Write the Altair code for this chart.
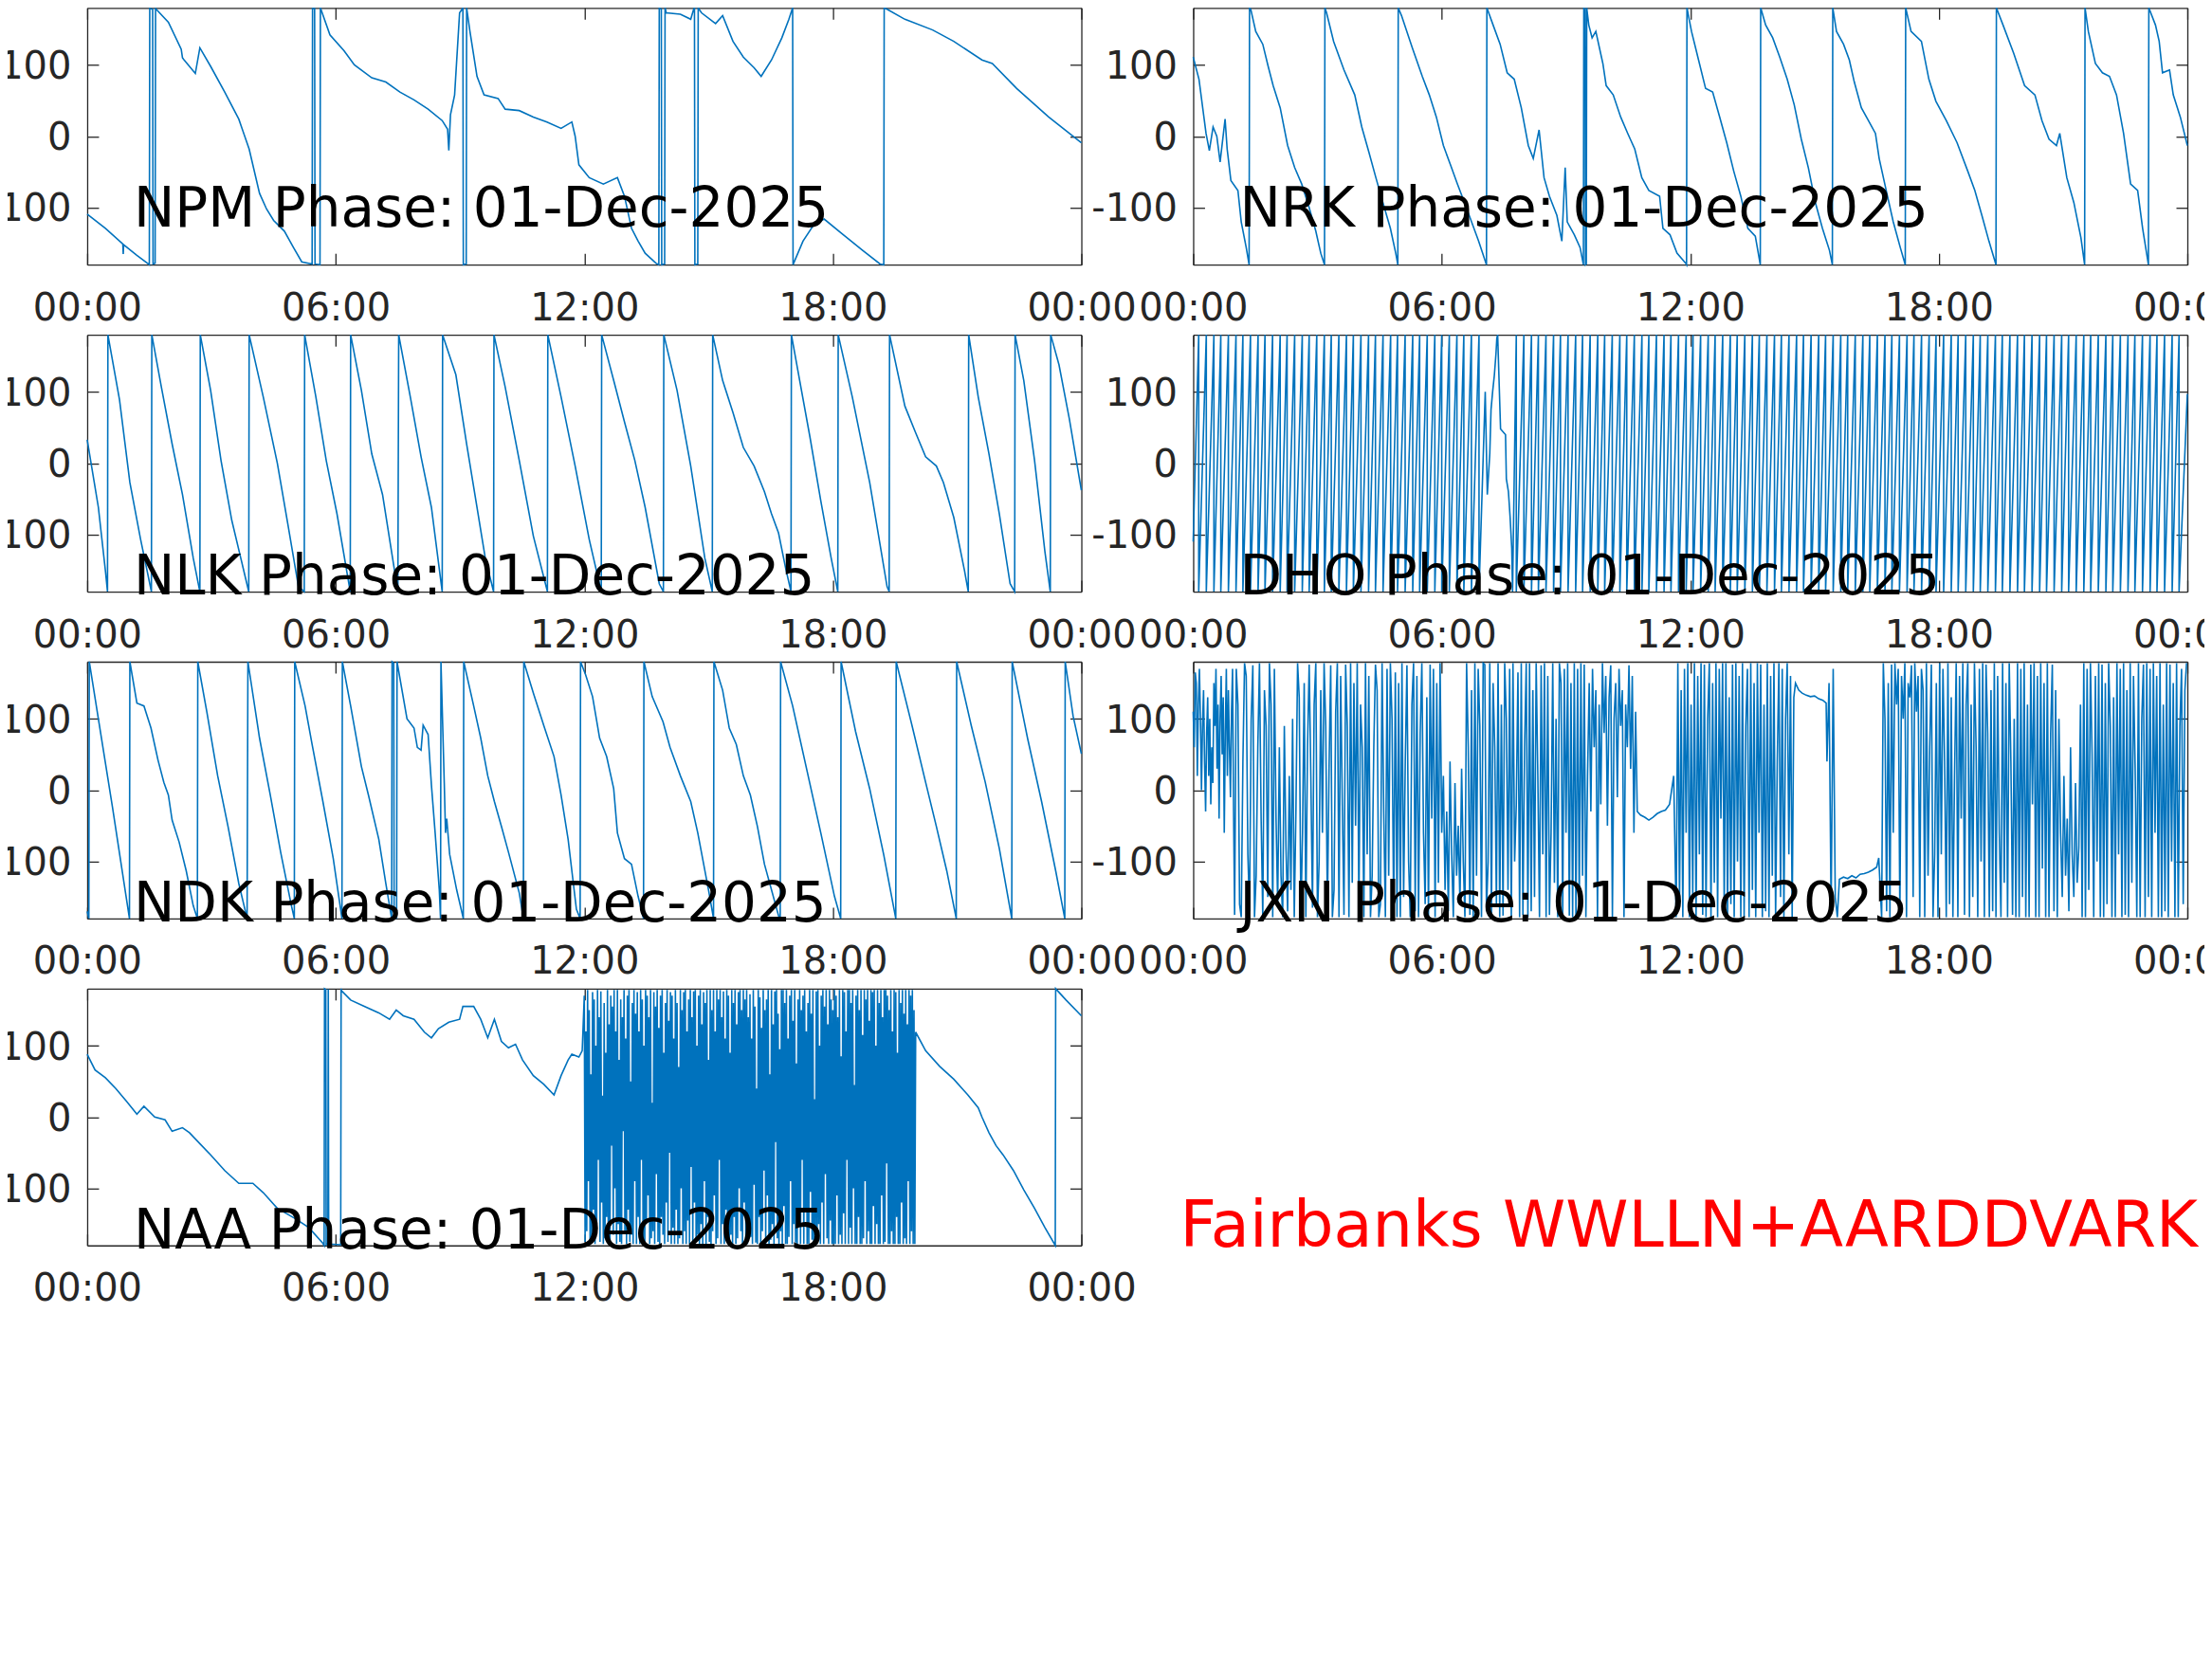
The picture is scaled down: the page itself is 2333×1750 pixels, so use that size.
import altair as alt
import pandas as pd

# ---------------- data: (hour of day, phase in degrees) ----------------
npm = [(0.00,-109),(0.44,-129),(0.86,-151),(0.87,-165),(0.88,-152),(1.20,-167),(1.50,-180),(1.51,179),
       (1.58,178),(1.59,-179),(1.64,-178),(1.65,179),(1.96,160),(2.27,122),(2.30,110),(2.34,107),(2.61,88),
       (2.72,124),(2.98,98),(3.32,62),(3.66,24),(3.91,-18),(4.16,-80),(4.33,-102),(4.50,-118),(4.76,-133),
       (4.98,-156),(5.18,-176),(5.43,-179),(5.44,179),(5.49,179),(5.50,-179),(5.62,-180),(5.63,180),(5.86,142),
       (6.20,120),(6.45,100),(6.87,82),(7.21,76),(7.55,62),(7.89,51),(8.23,38),(8.57,22),(8.70,10),(8.73,-20),
       (8.77,30),(8.87,58),(8.99,173),(9.05,178),(9.07,180),(9.08,-180),(9.15,-179),(9.16,180),(9.24,147),
       (9.41,84),(9.58,58),(9.92,53),(10.09,38),(10.43,36),(10.77,27),(11.10,20),(11.44,11),(11.70,20),
       (11.78,0),(11.87,-40),(12.12,-58),(12.46,-67),(12.80,-58),(12.97,-84),(13.14,-129),(13.30,-147),
       (13.47,-164),(13.73,-178),(13.80,-180),(13.81,180),(13.86,178),(13.87,-180),(13.94,-179),(13.95,180),
       (13.98,173),(14.32,171),(14.57,164),(14.64,178),(14.66,180),(14.67,-180),(14.74,-179),(14.75,180),
       (14.83,173),(15.17,158),(15.34,169),(15.59,133),(15.84,111),(16.10,96),(16.27,84),(16.52,107),
       (16.77,138),(16.94,164),(17.03,180),(17.04,-180),(17.28,-147),(17.54,-124),(17.79,-116),(18.21,-136),
       (18.72,-160),(19.14,-179),(19.23,-180),(19.24,180),(19.31,178),(19.74,164),(20.41,149),(20.92,133),
       (21.60,107),(21.85,102),(22.44,67),(23.21,27),(24.00,-9)]

nrk = [(0.00,111),(0.14,80),(0.31,4),(0.39,-20),(0.48,13),(0.57,0),(0.65,-36),(0.77,24),(0.82,-18),
       (0.91,-62),(1.08,-76),(1.16,-120),(1.28,-156),(1.35,-180),(1.36,180),
       (1.39,178),(1.51,147),(1.68,129),(1.81,98),(1.93,71),(2.10,40),(2.28,-13),(2.45,-44),(2.62,-67),
       (2.79,-98),(2.96,-133),(3.08,-164),(3.17,-180),(3.18,180),
       (3.22,173),(3.39,133),(3.64,93),(3.90,58),(4.07,13),(4.24,-22),(4.41,-58),(4.58,-93),(4.76,-129),
       (4.89,-164),(4.94,-180),(4.95,180),
       (5.03,169),(5.29,124),(5.53,84),(5.70,58),(5.87,27),(6.04,-13),(6.21,-40),(6.38,-67),(6.55,-93),
       (6.72,-120),(6.89,-147),(7.08,-180),(7.09,180),
       (7.24,156),(7.41,129),(7.58,89),(7.75,80),(7.92,40),(8.09,-13),(8.21,-31),(8.35,9),(8.47,-58),
       (8.60,-84),(8.78,-111),(8.90,-147),(8.98,-44),(9.03,-120),(9.20,-138),(9.34,-156),(9.42,-180),
       (9.43,180),(9.46,178),(9.47,-180),(9.49,-179),(9.50,180),
       (9.55,156),(9.63,138),(9.72,147),(9.89,102),(9.97,71),(10.14,58),(10.32,27),(10.49,4),(10.66,-18),
       (10.83,-58),(11.00,-76),(11.26,-84),(11.34,-129),(11.51,-138),(11.68,-164),(11.89,-178),(11.91,-180),
       (11.92,180),
       (12.03,147),(12.20,107),(12.37,67),(12.54,62),(12.71,27),(12.88,-9),(13.05,-49),(13.22,-84),
       (13.39,-129),(13.57,-140),(13.69,-180),(13.70,180),
       (13.82,156),(13.99,138),(14.16,111),(14.34,80),(14.51,44),(14.68,-4),(14.85,-44),(15.02,-93),
       (15.19,-129),(15.36,-160),(15.43,-180),(15.44,180),
       (15.53,147),(15.70,129),(15.84,107),(15.96,76),(16.13,40),(16.30,22),(16.47,4),(16.56,-31),
       (16.73,-76),(16.90,-120),(17.07,-156),(17.19,-180),(17.20,180),
       (17.33,147),(17.58,133),(17.76,80),(17.93,49),(18.18,22),(18.44,-9),(18.70,-49),(18.87,-76),
       (19.04,-111),(19.21,-147),(19.38,-180),(19.39,180),
       (19.55,156),(19.81,116),(20.07,71),(20.32,58),(20.49,22),(20.66,-4),(20.84,-13),(20.92,4),
       (21.09,-58),(21.26,-93),(21.43,-142),(21.52,-180),(21.53,180),
       (21.61,147),(21.78,102),(21.95,89),(22.12,84),(22.29,58),(22.46,4),(22.63,-67),(22.80,-76),
       (22.92,-129),(23.06,-180),(23.07,180),
       (23.23,156),(23.32,133),(23.40,89),(23.57,93),(23.66,58),(23.83,27),(24.00,-13)]

nlk = [(0.00,33),(0.27,-62),(0.44,-151),(0.49,-180),(0.50,180),
       (0.78,89),(1.03,-27),(1.29,-107),(1.55,-180),(1.56,180),
       (1.79,107),(2.05,27),(2.30,-44),(2.56,-133),(2.72,-180),(2.73,180),
       (2.98,102),(3.23,4),(3.49,-80),(3.90,-180),(3.91,180),
       (4.25,93),(4.59,0),(4.84,-84),(5.10,-173),(5.24,-180),(5.25,180),
       (5.52,93),(5.77,4),(6.03,-71),(6.35,-180),(6.36,180),
       (6.62,102),(6.87,13),(7.13,-44),(7.50,-180),(7.52,180),
       (7.80,93),(8.06,9),(8.31,-62),(8.57,-180),(8.58,180),
       (8.90,124),(9.16,27),(9.41,-62),(9.61,-133),(9.81,-180),(9.82,180),
       (10.09,107),(10.43,4),(10.77,-102),(11.11,-180),(11.12,180),
       (11.44,93),(11.78,-4),(12.12,-107),(12.41,-180),(12.42,180),
       (12.71,116),(12.97,58),(13.22,4),(13.47,-62),(13.81,-169),(13.91,-180),(13.92,180),
       (14.24,102),(14.57,-4),(14.91,-133),(15.09,-180),(15.10,180),
       (15.34,116),(15.59,71),(15.84,22),(16.10,-4),(16.35,-40),(16.52,-71),(16.69,-98),(16.86,-147),
       (16.99,-180),(17.00,180),
       (17.20,116),(17.45,36),(17.71,-53),(17.96,-133),(18.12,-180),(18.13,180),
       (18.47,93),(18.89,-27),(19.31,-173),(19.36,-180),(19.37,180),
       (19.74,80),(19.99,44),(20.24,9),(20.50,-4),(20.67,-27),(20.92,-76),(21.18,-151),(21.27,-180),
       (21.28,180),
       (21.51,93),(21.77,13),(22.02,-71),(22.28,-169),(22.39,-180),(22.40,180),
       (22.61,116),(22.87,4),(23.12,-124),(23.25,-180),(23.26,180),
       (23.46,138),(23.71,62),(24.00,-38)]

# DHO: steady sawtooth, wrap instants (minutes after 00:00)
dho_start = (0.00, -110)
dho_wraps_early_min = [8, 19, 30, 40, 51, 62, 72, 83, 94, 104, 115, 126, 136, 147, 158, 168, 179, 190,
                       200, 211, 222, 232, 243, 254, 264, 275, 286, 296, 307, 318, 328, 339, 350, 360,
                       371, 382, 392, 403, 414]
dho_anomaly = [(7.05,100),(7.10,-44),(7.16,13),(7.19,75),(7.23,101),(7.27,123),(7.31,154),(7.33,175),
               (7.35,180),(7.42,48),(7.54,40),(7.56,-22),(7.61,-40),(7.65,-75),(7.69,-119),(7.71,-180)]
dho_wraps_late_min = [468, 479, 490, 500, 511, 522, 532, 543, 554, 564, 575, 586, 596, 607, 618, 628,
                      639, 650, 660, 671, 682, 692, 703, 714, 724, 735, 746, 756, 767, 778, 788, 799,
                      810, 820, 831, 842, 852, 863, 874, 884, 895, 906, 916, 927, 938, 948, 959, 970,
                      980, 991, 1002, 1012, 1023, 1034, 1044, 1055, 1066, 1076, 1087, 1098, 1108, 1119,
                      1130, 1140, 1151, 1162, 1172, 1183, 1194, 1204, 1215, 1226, 1236, 1247, 1258, 1268,
                      1279, 1290, 1300, 1311, 1322, 1332, 1343, 1354, 1364, 1375, 1386, 1396, 1407, 1418,
                      1428]
dho_end = (24.00, 97)

ndk = [(0.00,-170),(0.04,-180),(0.05,180),(0.61,-24),(1.02,-180),(1.03,180),
       (1.20,122),(1.37,118),(1.54,87),(1.71,42),(1.85,11),(1.96,-7),(2.05,-42),(2.22,-73),(2.39,-113),
       (2.56,-162),(2.66,-180),(2.67,180),
       (2.89,109),(3.15,20),(3.40,-51),(3.66,-131),(3.86,-180),(3.88,180),
       (4.16,73),(4.42,-7),(4.67,-87),(4.93,-162),(5.00,-180),(5.01,180),
       (5.26,118),(5.43,64),(5.69,-16),(5.94,-96),(6.15,-180),(6.16,180),
       (6.36,118),(6.62,33),(6.79,-7),(7.04,-69),(7.21,-131),(7.35,-180),(7.36,180),(7.40,178),
       (7.41,-180),(7.47,-179),(7.48,180),
       (7.72,100),(7.89,87),(7.97,60),(8.06,56),(8.11,91),(8.23,78),(8.31,7),(8.40,-60),(8.50,-140),
       (8.53,-180),(8.54,180),(8.62,10),(8.65,-60),(8.68,-40),(8.75,-90),(8.92,-140),(9.08,-180),(9.09,180),
       (9.33,118),(9.50,73),(9.67,20),(9.83,-16),(10.00,-51),(10.17,-87),(10.43,-144),(10.53,-180),
       (10.54,180),
       (10.77,136),(11.02,91),(11.27,47),(11.44,-7),(11.61,-69),(11.81,-167),(11.90,-180),(11.91,180),
       (12.03,162),(12.20,131),(12.37,73),(12.54,47),(12.71,2),(12.80,-60),(12.97,-96),(13.14,-104),
       (13.30,-149),(13.43,-180),(13.44,180),
       (13.64,131),(13.90,96),(14.07,60),(14.32,20),(14.57,-16),(14.74,-60),(15.00,-140),(15.12,-180),
       (15.13,180),
       (15.34,140),(15.50,87),(15.67,64),(15.84,20),(16.01,-7),(16.18,-51),(16.35,-104),(16.52,-140),
       (16.69,-176),(16.73,-180),(16.74,180),
       (17.03,118),(17.37,29),(17.71,-60),(18.04,-149),(18.19,-180),(18.20,180),
       (18.55,82),(18.89,2),(19.23,-91),(19.52,-180),(19.53,180),
       (19.91,91),(20.24,11),(20.50,-51),(20.75,-113),(20.98,-180),(20.99,180),
       (21.34,91),(21.68,11),(22.02,-82),(22.32,-180),(22.33,180),
       (22.70,73),(23.04,-16),(23.38,-113),(23.60,-180),(23.61,180),
       (23.80,104),(24.00,51)]

# JXN: noisy phase, regularly sampled blocks plus quiet stretches
jxn_a_start, jxn_a_step = 0.00, 0.025
jxn_a = [110, 60, 165, 150, 20, 120, 170, 100, 0, 90, 140, 40, -30, 80, 130, 20, 100, -20, 60, 10,
         150, 90, 170, 30, 120, -40, 100, 160, 50, 130, -60, 80, 170, 20, 140, 60, -10, 110, 170, -30]
jxn_b_start, jxn_b_step = 1.00, 0.04
jxn_b = [-175, 170, 120, -160, -178, 40, 178, 160, -90, -170, 100, 175, -178, -120, 60, 178, -40, -178,
         140, 90, -150, 178, 120, -178, 170,
         -40, -160, 60, -120, -178, 90, -80, -170, 20, -140, 100, -178, -30, 178, 130, -175, -60, 150,
         -178, 60, 176, 20, -165, 120, 178,
         -178, -100, 140, -60, 178, 90, -170, 30, 175, -178, -140, 110, 178, -178, 160, -20, -175, 176,
         90, -178, 178, -130, 150, -50, 178,
         -165, 120, 60, -178, 178, -90, 160, -178, -120, 60, 176, 140, -178, -160, 178, -30, -178, 170,
         -120, 178, 100, -175, 165, -178, 150,
         -178, 178, -150, 40, 175, -100, -178, 120, 178, -170, 160, -178, 80, 178, -60, -160, 130, -178,
         176, -40, 170, -178, 150, -130, 178,
         -60, 20, -140, -30, -170, 40, -90, -178, 10, -120, -50, -160, 30, -100, -178, 178, 60, -175,
         140, -178, 178, -120, 170, 90, -178,
         178, 176, -170, -100, 178, -178, 150, 60, -160, 178, -178, 120, -176, 178, 100, -140, 170, -178,
         178, -100, -20, 165, -178, 178, -175,
         60, 178, -178, 178, -170, 140, -150, 178, 20, -178, 175, -90, 178, -178, 160, -175, -60, 178,
         -130, 100, -178, 178, 150, -178, 170,
         -60, 178, -176, 150, -178, 178, -178, 170, -160, 178, -120, 176, -178, 20, 150, -30, 170, 60,
         140, -178, 120, -20, 178, 80, 160,
         -50, 130, 175, -178, 100, 150, -10, 170, 90, 140, -178, 120, 60, 175, 30, 160, -60, 110]
jxn_c = [(10.72,-30),(10.80,-35),(10.90,-38),(11.00,-42),(11.10,-38),(11.20,-33),(11.30,-30),
         (11.40,-28),(11.50,-20),(11.55,0),(11.60,20)]
jxn_d_start, jxn_d_step = 11.66, 0.04
jxn_d = [-178, 178, -160, 140, -178, 170, -60, 178, -178, 120, -150, 178, -178, 160, -90, 178, -175, 176,
         -178, 100, 178, -178, 150, -130, 178, -178, 170, -40, 178, -170, 178, -178, 130, -160, 176, -178,
         178, -100, 160, -178, 178, -178, 90, 170, -178, 178, -140, 150, -178, 178, -60, 176, -178, 120,
         -170, 178, -178, 160, -120, 178, -178, 40, 178, -150, 170, -178, 100, 178, -90, 160, -178, 130,
         150]
jxn_e = [(14.62,140),(14.70,136),(14.80,133),(14.90,131),(15.00,132),(15.10,128),(15.20,126),
         (15.28,122),(15.30,40),(15.35,150),(15.40,-170),(15.45,170),(15.50,-150),(15.55,-178)]
jxn_f = [(15.60,-125),(15.70,-122),(15.80,-124),(15.90,-120),(16.00,-123),(16.10,-118),(16.20,-117),
         (16.30,-115),(16.40,-112),(16.50,-108),(16.55,-95)]
jxn_g_start, jxn_g_step = 16.62, 0.04
jxn_g = [-178, 178, 100, -170, 150, -178, 176, -60, 178, 120, 170, -178, 160, 100, 178, -178, 150, 130,
         175, -150, 178, 110, 160, -178, 170,
         140, -178, 178, -120, 60, 176, -178, -90, 150, -178, 178, -90, 170, 40, -178, 178, -160, 130,
         -178, 20, 178, -178, 160, -40, 178,
         -175, 120, 178, -178, 120, -150, 178, 60, -178, 170, -100, 178, -178, 176, 80, -178, 140, -170,
         178, -178, 160, -60, -178, 178, -130,
         150, -178, 178, 40, -175, 100, -178, 178, -178, 170, -150, 178, -178, 120, -178, 176, -20, 178,
         -178, 160, -178, 178, -110, 150, -178,
         178, -178, 80, 176, -170, 140, -178, 100, -60, -150, 20, -120, -40, -170, 60, -90, -150, 10,
         -130, -80, 120, -178, 178, -178, 170,
         -140, 178, 50, -178, 160, -100, 178, -178, 176, -178, 150, -160, 178, 90, -178, 130, -178, 178,
         -90, 170, -178, 178, -175, 140, -178,
         178, -130, 160, 30, -178, 178, -178, 100, 176, -178, 178, -150, 170, -178, 178, -60, 160, -178,
         178, -178, 120, -170, 178, -178, 176,
         -100, 150, -178, 178, -178, 90, 170, -160, 140, 178]

naa_before = [(0.00,88),(0.19,66),(0.44,55),(0.69,40),(0.95,22),(1.20,4),(1.37,15),(1.63,0),(1.88,-4),
              (2.05,-20),(2.30,-15),(2.47,-22),(2.73,-38),(2.98,-53),(3.32,-75),(3.66,-93),(4.00,-93),
              (4.25,-106),(4.59,-128),(5.01,-142),(5.35,-155),(5.69,-177),(5.72,-180),(5.73,180),
              (5.76,179),(5.77,-179),(5.81,-178),(5.82,179),(5.83,-178),(6.12,-179),(6.13,180),
              (6.14,177),(6.36,164),(6.70,155),(7.04,146),(7.30,137),(7.46,150),(7.63,142),(7.89,137),
              (8.14,119),(8.31,111),(8.48,124),(8.73,133),(8.99,137),(9.07,155),(9.33,155),(9.50,137),
              (9.67,111),(9.83,137),(10.00,106),(10.17,97),(10.34,102),(10.51,80),(10.77,58),
              (11.02,46),(11.27,31),(11.44,58),(11.61,80),(11.70,88),(11.87,84),(11.95,93)]
naa_dense_start, naa_dense_step = 12.00, 0.02
naa_dense = [170, -175, 120, -160, 178, -90, 150, -178, 60, -170, 175, -130, 165, -178, 100, -150, 178, -60, 140, -175,
             176, -120, 30, -178, 160, -170, 90, -140, 178, -175, 130, -178, 170, -40, 155, -165, 178, -100, 120, -178,
             178, -150, 80, -175, 165, -178, 140, -20, 178, -160, 110, -178, 170, -130, 178, -175, 50, -165, 160, -178,
             178, -90, 145, -178, 175, -140, 120, -178, 178, -60, 165, -175, 100, -178, 178, -150, 170, -110, 140, -178,
             178, -170, 20, -160, 175, -178, 155, -80, 178, -175, 125, -178, 170, -140, 178, -165, 90, -178, 160, -120,
             178, -175, 135, -50, 175, -178, 170, -155, 110, -178, 178, -130, 160, -178, 70, -170, 178, -100, 150, -178,
             175, -160, 178, -178, 120, -145, 165, -178, 178, -70, 140, -178, 176, -120, 178, -175, 100, -165, 170, -178,
             178, -150, 130, -178, 175, -90, 160, -178, 178, -140, 80, -175, 178, -178, 150, -160, 178, -110, 120, -178,
             178, -170, 165, -60, 178, -178, 140, -150, 176, -178, 110, -130, 178, -175, 170, -178, 90, -165, 178, -178,
             160, -140, 178, -178, 130, -170, 175, -100, 178, -160, 150, -178, 178, -120, 165, -175, 178, -178, 140, -150,
             172, -168, 110, -178, 178, -95, 155, -176, 40, -178, 178, -140, 168, -178, 125, -160, 178, -75, 150, -178,
             165, -110, 178, -178, 60, -172, 178, -150, 130, -178, 176, -35, 178, -170, 145, -178, 95, -160, 178, -178,
             178, -125, 160, -178, 178, -178, 110, -168, 170, -90, 178, -178, 135, -150, 178, -176, 75, -178, 165, -140,
             178, -178, 150, -60, 170, -178, 178, -130, 120, -178, 160, -178, 178, -105, 145, -172, 178, -178, 25, -160,
             176, -178, 178, -150, 100, -178, 170, -120, 178, -178, 155, -80, 178, -170, 130, -178, 178, -145, 165, -178,
             150, -178, 178, -178, 170, -110, 140, -178, 178, -165, 85, -178, 178, -135, 175, -178, 120, -60, 178, -178,
             178, -155, 160, -178, 178, -100, 45, -178, 170, -178, 178, -140, 150, -178, 178, -178, 115, -170, 178, -90,
             165, -178, 178, -160, 135, -178, 178, -178, 175, -125, 178, -178, 100, -150, 178, -178, 160, -178, 178, -110,
             140, -178, 178, -175, 178, -65, 170, -178, 150, -178, 178, -160, 120, -178, 178, -178, 175, -140, 90, -178,
             178, -178, 160, -120, 178, -178, 145, -170, 178, -178, 130, -90, 178, -178, 170, -160, 178, -178, 150, -178]
naa_after = [(20.00,119),(20.24,93),(20.58,71),(20.92,53),(21.26,31),(21.51,13),(21.60,0),(21.77,-22),
             (21.94,-40),(22.11,-53),(22.36,-75),(22.61,-102),(22.87,-128),(23.12,-155),(23.37,-180),
             (23.38,180),(23.41,178),(23.63,164),(24.00,142)]

titles = {
    "NPM": "NPM Phase: 01-Dec-2025", "NRK": "NRK Phase: 01-Dec-2025",
    "NLK": "NLK Phase: 01-Dec-2025", "DHO": "DHO Phase: 01-Dec-2025",
    "NDK": "NDK Phase: 01-Dec-2025", "JXN": "JXN Phase: 01-Dec-2025",
    "NAA": "NAA Phase: 01-Dec-2025",
}
note_text = "Fairbanks WWLLN+AARDDVARK"

x_tick_values = [0, 6, 12, 18, 24]
x_tick_labels = ["00:00", "06:00", "12:00", "18:00", "00:00"]
y_tick_values = [-100, 0, 100]


# ---------------- assembling the series ----------------
def sampled(t0, step, values):
    return [(round(t0 + k * step, 3), v) for k, v in enumerate(values)]


def sawtooth_from_wraps(wraps_min):
    pts = []
    for w in wraps_min:
        pts.append((w / 60.0, 180))
        pts.append((w / 60.0, -180))
    return pts


dho = ([dho_start] + sawtooth_from_wraps(dho_wraps_early_min) + dho_anomaly
       + sawtooth_from_wraps(dho_wraps_late_min) + [dho_end])
jxn = (sampled(jxn_a_start, jxn_a_step, jxn_a) + sampled(jxn_b_start, jxn_b_step, jxn_b) + jxn_c
       + sampled(jxn_d_start, jxn_d_step, jxn_d) + jxn_e + jxn_f
       + sampled(jxn_g_start, jxn_g_step, jxn_g))
naa = naa_before + sampled(naa_dense_start, naa_dense_step, naa_dense) + naa_after

# ---------------- styling ----------------
PANEL_W = 1049
PANEL_H = 271
BLUE = "#0072BD"
AXIS_COLOR = "#262626"
FONT = "DejaVu Sans"
TICK_FONT = 40
TITLE_FONT = 58

label_expr_x = "[" + ",".join("'%s'" % s for s in x_tick_labels) + "][round(datum.value / 6)]"
x_scale = alt.Scale(domain=[0, 24], nice=False, zero=False)
y_scale = alt.Scale(domain=[-180, 180], nice=False, zero=False)


def frame(points):
    return pd.DataFrame({
        "t": [p[0] for p in points],
        "p": [p[1] for p in points],
        "i": list(range(len(points))),
    })


def tick_axis(orient, offset, values, with_domain):
    return alt.Axis(orient=orient, offset=offset, values=values, labels=False, ticks=True,
                    tickSize=12, tickColor=AXIS_COLOR, tickWidth=1.3, domain=with_domain,
                    domainColor=AXIS_COLOR, domainWidth=1.3, grid=False, title=None)


def panel(points, title, title_y):
    line = alt.Chart(frame(points)).mark_line(color=BLUE, strokeWidth=1.6).encode(
        x=alt.X("t:Q", scale=x_scale, axis=alt.Axis(
            orient="bottom", values=x_tick_values, labelExpr=label_expr_x, ticks=False, tickSize=0,
            domain=True, domainColor=AXIS_COLOR, domainWidth=1.3, labelFont=FONT,
            labelFontSize=TICK_FONT, labelColor=AXIS_COLOR, labelPadding=26, labelFlush=False,
            labelOverlap=False, grid=False, title=None)),
        y=alt.Y("p:Q", scale=y_scale, axis=alt.Axis(
            orient="left", values=y_tick_values, labelExpr="'' + datum.value", ticks=False, tickSize=0,
            domain=True, domainColor=AXIS_COLOR, domainWidth=1.3, labelFont=FONT,
            labelFontSize=TICK_FONT, labelColor=AXIS_COLOR, labelPadding=17, labelOffset=2,
            labelFlush=False, labelOverlap=False, grid=False, title=None)),
        order="i:Q",
    )
    anchor = pd.DataFrame({"t": [0], "p": [0]})
    inner_ticks_a = alt.Chart(anchor).mark_point(opacity=0).encode(
        x=alt.X("t:Q", scale=x_scale, axis=tick_axis("top", -PANEL_H, x_tick_values, False)),
        y=alt.Y("p:Q", scale=y_scale, axis=tick_axis("right", -PANEL_W, y_tick_values, False)),
    )
    inner_ticks_b = alt.Chart(anchor).mark_point(opacity=0).encode(
        x=alt.X("t:Q", scale=x_scale, axis=tick_axis("bottom", -PANEL_H, x_tick_values, True)),
        y=alt.Y("p:Q", scale=y_scale, axis=tick_axis("left", -PANEL_W, y_tick_values, True)),
    )
    label = alt.Chart(pd.DataFrame({"label": [title]})).mark_text(
        align="left", baseline="alphabetic", font=FONT, fontSize=TITLE_FONT, color="black"
    ).encode(x=alt.value(49), y=alt.value(title_y), text="label:N")
    return (alt.layer(line, inner_ticks_a, inner_ticks_b, label)
            .resolve_axis(x="independent", y="independent")
            .properties(width=PANEL_W, height=PANEL_H))


p_npm = panel(npm, titles["NPM"], 231)
p_nrk = panel(nrk, titles["NRK"], 231)
p_nlk = panel(nlk, titles["NLK"], 274)
p_dho = panel(dho, titles["DHO"], 274)
p_ndk = panel(ndk, titles["NDK"], 274)
p_jxn = panel(jxn, titles["JXN"], 274)
p_naa = panel(naa, titles["NAA"], 274)

note = alt.Chart(pd.DataFrame({"label": [note_text]})).mark_text(
    align="left", baseline="alphabetic", font=FONT, fontSize=67, color="#FF0000"
).encode(x=alt.value(-14), y=alt.value(272), text="label:N").properties(width=PANEL_W, height=PANEL_H)

chart = (alt.concat(p_npm, p_nrk, p_nlk, p_dho, p_ndk, p_jxn, p_naa, note,
                    columns=2, spacing=alt.RowColnumber(row=74, column=118), bounds="flush")
         .properties(padding={"left": -24, "top": -4, "right": -40, "bottom": 0}, background="white")
         .configure_view(strokeOpacity=0))

chart.save("out.html", embed_options={"renderer": "svg", "actions": False})
